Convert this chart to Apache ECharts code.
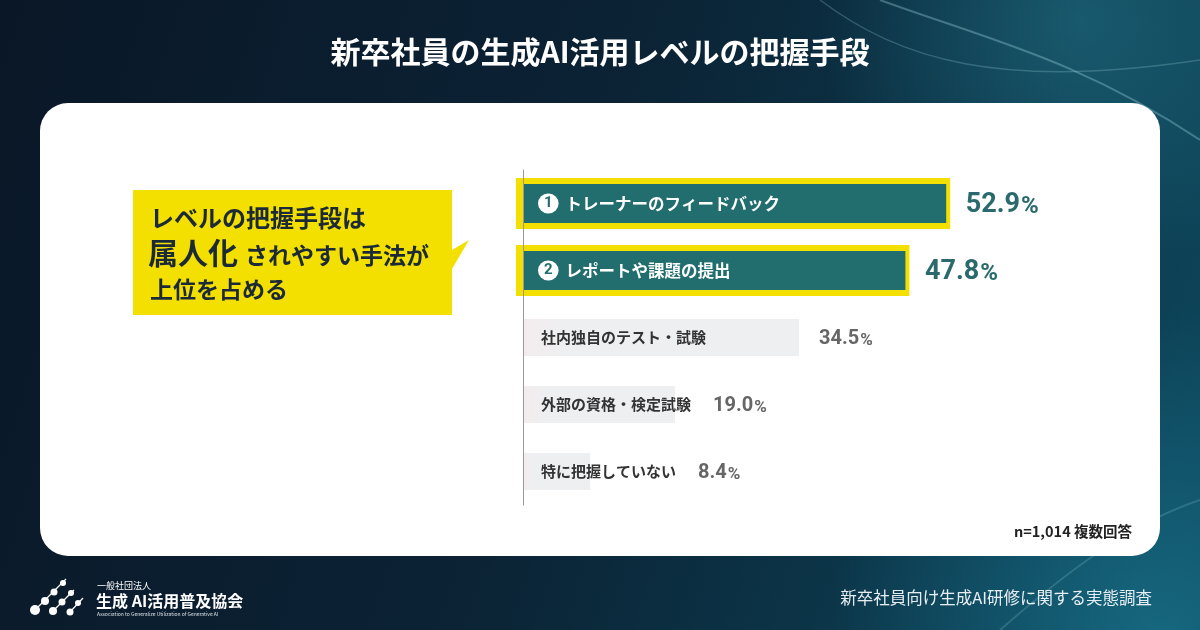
<!DOCTYPE html>
<html><head><meta charset="utf-8">
<script src="https://cdn.jsdelivr.net/npm/echarts@6/dist/echarts.min.js"></script>
<style>html,body{margin:0;padding:0;background:#0b1c2c}#c{width:1200px;height:630px}</style>
</head><body><div id="c"></div>
<script>
// ---- data ----
const chartTitle = '新卒社員の生成AI活用レベルの把握手段';
const categories = ['トレーナーのフィードバック', 'レポートや課題の提出', '社内独自のテスト・試験', '外部の資格・検定試験', '特に把握していない'];
const values = [52.9, 47.8, 34.5, 19.0, 8.4];
const rankMarks = ['1', '2', '', '', ''];
const calloutLine1 = 'レベルの把握手段は';
const calloutEmph = '属人化';
const calloutLine2 = 'されやすい手法が';
const calloutLine3 = '上位を占める';
const noteText = 'n=1,014 複数回答';
const sourceText = '新卒社員向け生成AI研修に関する実態調査';
const orgSmall = '一般社団法人';
const orgName = '生成 AI活用普及協会';
const orgEnglish = 'Association to Generalize Utilization of Generative AI';

// ---- layout ----
const FONT = '"Noto Sans CJK JP", "Noto Sans", sans-serif';
const GRID_LEFT = 515, GRID_W = 480, X_MIN = -1, X_MAX = 59, PX = GRID_W / (X_MAX - X_MIN);
const FRAME_LEFT = 7, FRAME_RIGHT = 4;   // px of yellow frame beyond the bar
const HI_LABEL_ORIGIN = 15;   // px from axis
const LO_LABEL_ORIGIN = 18;
const TEAL = '#226d6e', YELLOW = '#f3e000';
const cv = document.createElement('canvas').getContext('2d');
function textW(t, size, weight) { cv.font = weight + ' ' + size + 'px ' + FONT; return cv.measureText(t).width; }

function richSet(hnW, onW) {
  return {
    c: { padding: [0, 6, 0, 6], height: 20, lineHeight: 20, borderRadius: 10, backgroundColor: '#fff', color: TEAL, fontSize: 15, fontWeight: 'bold', fontFamily: 'Roboto', verticalAlign: 'middle' },
    g: { width: 7 },
    hn: { width: hnW, color: '#fff', fontSize: 16.5, fontWeight: 'bold', fontFamily: FONT, verticalAlign: 'middle' },
    hv: { color: '#2a6a6c', fontSize: 27, fontWeight: 'bold', fontFamily: 'Roboto', lineHeight: 30, verticalAlign: 'bottom' },
    hp: { color: '#2a6a6c', fontSize: 24, fontWeight: 'bold', fontFamily: 'Roboto', lineHeight: 28, padding: [0, 0, 0, 1], verticalAlign: 'bottom' },
    on: { width: onW, color: '#333', fontSize: 15, fontWeight: 'bold', fontFamily: FONT, verticalAlign: 'middle' },
    ov: { color: '#666', fontSize: 20, fontWeight: 'bold', fontFamily: 'Roboto', lineHeight: 23, verticalAlign: 'bottom' },
    op: { color: '#666', fontSize: 17, fontWeight: 'bold', fontFamily: 'Roboto', lineHeight: 21, padding: [0, 0, 0, 1], verticalAlign: 'bottom' }
  };
}

const isHi = rankMarks.map(r => r !== '');
const frameLeftData = values.map((v, i) => isHi[i] ? -FRAME_LEFT / PX : '-');
const frameRightData = values.map((v, i) => isHi[i] ? v + FRAME_RIGHT / PX : '-');
const hiData = values.map((v, i) => {
  if (!isHi[i]) return '-';
  const valueX = v * PX + FRAME_RIGHT + 16;
  const nameW = valueX - HI_LABEL_ORIGIN - 21 - 7;
  return {
    value: v,
    label: { formatter: '{c|' + rankMarks[i] + '}{g|}{hn|' + categories[i] + '}{hv|' + v.toFixed(1) + '}{hp|%}', rich: richSet(nameW, 0) }
  };
});
const loData = values.map((v, i) => {
  if (isHi[i]) return '-';
  const nw = textW(categories[i], 15, 'bold');
  const valueX = Math.max(v * PX + 20, LO_LABEL_ORIGIN + nw + 22);
  return {
    value: v,
    label: { formatter: '{on|' + categories[i] + '}{ov|' + v.toFixed(1) + '}{op|%}', rich: richSet(0, valueX - LO_LABEL_ORIGIN) }
  };
});

const chart = echarts.init(document.getElementById('c'), null, { renderer: 'canvas' });
const yBase = { type: 'category', data: categories, inverse: true, axisTick: { show: false }, axisLabel: { show: false }, splitLine: { show: false } };
const option = {
  animation: false,
  textStyle: { fontFamily: FONT },
  grid: { left: GRID_LEFT, top: 170, width: GRID_W, height: 335 },
  xAxis: { type: 'value', min: X_MIN, max: X_MAX, show: false, splitLine: { show: false } },
  yAxis: [
    Object.assign({}, yBase, { z: 6, axisLine: { show: true, onZero: true, lineStyle: { color: '#9a9a9a', width: 1 } } }),
    Object.assign({}, yBase, { show: false, axisLine: { show: false } }),
    Object.assign({}, yBase, { show: false, axisLine: { show: false } })
  ],
  series: [{
    type: 'bar', yAxisIndex: 0, stack: 'frame', data: frameLeftData, barWidth: 51, z: 1,
    itemStyle: { color: YELLOW }, silent: true
  }, {
    type: 'bar', yAxisIndex: 0, stack: 'frame', data: frameRightData, barWidth: 51, z: 1,
    itemStyle: { color: YELLOW }, silent: true
  }, {
    type: 'bar', yAxisIndex: 1, data: hiData, barWidth: 39, z: 2,
    itemStyle: { color: TEAL },
    label: { show: true, position: 'insideLeft', distance: HI_LABEL_ORIGIN }
  }, {
    type: 'bar', yAxisIndex: 2, data: loData, barWidth: 37, z: 2,
    itemStyle: { color: new echarts.graphic.LinearGradient(0, 0, 1, 0, [{ offset: 0, color: '#f3eced' }, { offset: 0.15, color: '#eeeff1' }, { offset: 1, color: '#eeeff1' }]) },
    label: { show: true, position: 'insideLeft', distance: LO_LABEL_ORIGIN }
  }],
  graphic: { elements: [
    { type: 'rect', z: -20, shape: { x: 0, y: 0, width: 1200, height: 630 },
      style: { fill: new echarts.graphic.LinearGradient(0, 0, 1, 0.6, [
        { offset: 0, color: '#0a1727' }, { offset: 0.5, color: '#0b2335' }, { offset: 1, color: '#0d4459' }]) } },
    { type: 'circle', z: -19, shape: { cx: 1160, cy: 640, r: 330 },
      style: { fill: new echarts.graphic.RadialGradient(0.5, 0.5, 0.5, [
        { offset: 0, color: 'rgba(25,115,140,0.75)' }, { offset: 1, color: 'rgba(25,115,140,0)' }]) } },
    { type: 'circle', z: -19, shape: { cx: 1080, cy: 20, r: 260 },
      style: { fill: new echarts.graphic.RadialGradient(0.5, 0.5, 0.5, [
        { offset: 0, color: 'rgba(40,130,150,0.45)' }, { offset: 1, color: 'rgba(40,130,150,0)' }]) } },
    { type: 'bezierCurve', z: -18, shape: { x1: 880, y1: 0, cpx1: 990, cpy1: 40, cpx2: 1080, cpy2: 60, x2: 1200, y2: 140 },
      style: { stroke: 'rgba(160,215,225,0.35)', lineWidth: 2, fill: null } },
    { type: 'bezierCurve', z: -18, shape: { x1: 820, y1: 0, cpx1: 900, cpy1: 60, cpx2: 1000, cpy2: 90, x2: 1200, y2: 60 },
      style: { stroke: 'rgba(160,215,225,0.25)', lineWidth: 1.5, fill: null } },
    { type: 'bezierCurve', z: -18, shape: { x1: 1000, y1: 630, cpx1: 1080, cpy1: 560, cpx2: 1140, cpy2: 520, x2: 1200, y2: 500 },
      style: { stroke: 'rgba(160,215,225,0.2)', lineWidth: 2, fill: null } },
    { type: 'rect', z: -5, shape: { x: 40, y: 103, width: 1120, height: 453, r: 28 }, style: { fill: '#ffffff' } },
    { type: 'text', z: 10, x: 600, y: 52, style: { text: chartTitle, fill: '#ffffff', font: 'bold 30px ' + FONT, align: 'center', verticalAlign: 'middle' } },
    // callout
    { type: 'polygon', z: 10, shape: { points: [[133, 190], [452, 190], [452, 250], [469, 240], [452, 269], [452, 315], [133, 315]] }, style: { fill: YELLOW } },
    { type: 'text', z: 11, x: 150, y: 218, style: { text: calloutLine1, fill: '#1c2a38', font: 'bold 24px ' + FONT, verticalAlign: 'middle' } },
    { type: 'text', z: 11, x: 148, y: 253, style: { text: calloutEmph, fill: '#1c2a38', font: 'bold 30px ' + FONT, verticalAlign: 'middle' } },
    { type: 'text', z: 11, x: 245, y: 255, style: { text: calloutLine2, fill: '#1c2a38', font: 'bold 23px ' + FONT, verticalAlign: 'middle' } },
    { type: 'text', z: 11, x: 150, y: 289, style: { text: calloutLine3, fill: '#1c2a38', font: 'bold 23px ' + FONT, verticalAlign: 'middle' } },
    // note & source
    { type: 'text', z: 10, x: 1132, y: 531, style: { text: noteText, fill: '#222', font: 'bold 14.5px ' + FONT, align: 'right', verticalAlign: 'middle' } },
    { type: 'text', z: 10, x: 1152, y: 598, style: { text: sourceText, fill: '#e6eef2', font: '16.5px ' + FONT, align: 'right', verticalAlign: 'middle' } },
    // logo
    { type: 'line', z: 10, shape: { x1: 35, y1: 610, x2: 66, y2: 579 }, style: { stroke: '#fff', lineWidth: 1.2 } },
    { type: 'line', z: 10, shape: { x1: 53, y1: 611, x2: 74, y2: 590 }, style: { stroke: '#fff', lineWidth: 1.2 } },
    { type: 'line', z: 10, shape: { x1: 70, y1: 612, x2: 83, y2: 598 }, style: { stroke: '#fff', lineWidth: 1.2 } },
    { type: 'circle', z: 10, shape: { cx: 35, cy: 610, r: 5 }, style: { fill: '#fff' } },
    { type: 'circle', z: 10, shape: { cx: 45, cy: 601, r: 4 }, style: { fill: '#fff' } },
    { type: 'circle', z: 10, shape: { cx: 54, cy: 592, r: 3.5 }, style: { fill: '#fff' } },
    { type: 'circle', z: 10, shape: { cx: 63, cy: 583, r: 3 }, style: { fill: '#fff' } },
    { type: 'circle', z: 10, shape: { cx: 53, cy: 611, r: 4 }, style: { fill: '#fff' } },
    { type: 'circle', z: 10, shape: { cx: 62, cy: 602, r: 3.5 }, style: { fill: '#fff' } },
    { type: 'circle', z: 10, shape: { cx: 71, cy: 593, r: 3 }, style: { fill: '#fff' } },
    { type: 'circle', z: 10, shape: { cx: 70, cy: 612, r: 3.5 }, style: { fill: '#fff' } },
    { type: 'circle', z: 10, shape: { cx: 78, cy: 603, r: 3 }, style: { fill: '#fff' } },
    { type: 'text', z: 10, x: 97, y: 586, style: { text: orgSmall, fill: '#fff', font: '9px ' + FONT, verticalAlign: 'middle' } },
    { type: 'text', z: 10, x: 96, y: 601, style: { text: orgName, fill: '#fff', font: 'bold 16px ' + FONT, verticalAlign: 'middle' } },
    { type: 'text', z: 10, x: 97, y: 614, style: { text: orgEnglish, fill: '#d8e0e6', font: '5px ' + FONT, verticalAlign: 'middle' } }
  ] }
};
chart.setOption(option);
</script>
</body></html>
